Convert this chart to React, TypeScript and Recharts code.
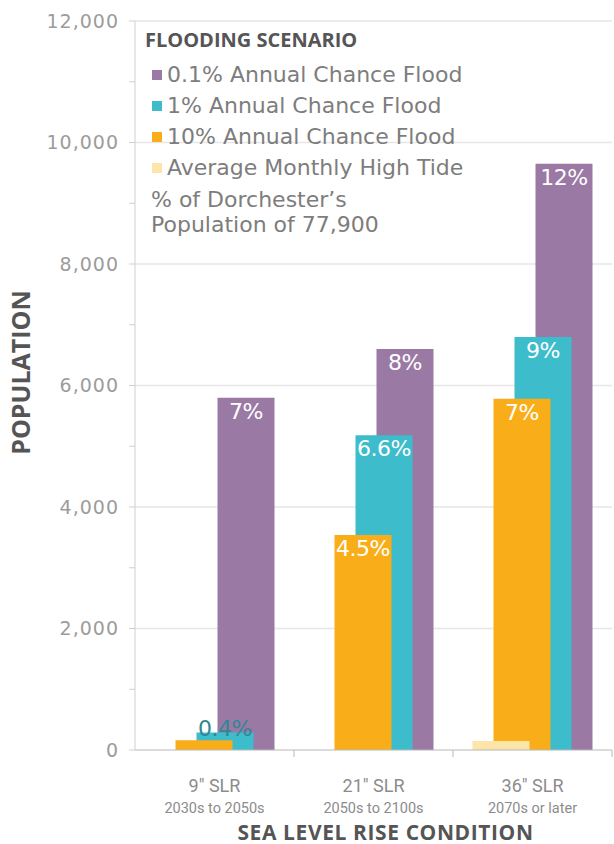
import React from 'react';
import { BarChart, Bar, XAxis, YAxis, CartesianGrid, Legend, LabelList } from 'recharts';

// sea level rise conditions (x categories)
const categories = ['9" SLR', '21" SLR', '36" SLR'];
const periods = ['2030s to 2050s', '2050s to 2100s', '2070s or later'];

// population flooded
const flood01 = [5800, 6600, 9650];
const flood1 = [290, 5180, 6800];
const flood10 = [160, 3540, 5780];
const highTide = [0, 0, 150];

// % of Dorchester's population shown on the bars
const pct01 = ['7%', '8%', '12%'];
const pct1 = ['0.4%', '6.6%', '9%'];
const pct10 = ['', '4.5%', '7%'];
const pctTide = ['', '', ''];

const yTicks = [0, 1000, 2000, 3000, 4000, 5000, 6000, 7000, 8000, 9000, 10000, 11000, 12000];
const gridValues = [2000, 4000, 6000, 8000, 10000, 12000];

const data = categories.map((name, i) => ({
  name,
  period: periods[i],
  flood01: flood01[i],
  flood1: flood1[i],
  flood10: flood10[i],
  highTide: highTide[i],
  pct01: pct01[i],
  pct1: pct1[i],
  pct10: pct10[i],
  pctTide: pctTide[i],
}));

// back to front: later series sit in front and further left
const series = [
  { key: 'flood01', label: 'pct01', name: '0.1% Annual Chance Flood', color: '#9a7aa4', shift: 31.5 },
  { key: 'flood1', label: 'pct1', name: '1% Annual Chance Flood', color: '#3dbccb', shift: 10.5 },
  { key: 'flood10', label: 'pct10', name: '10% Annual Chance Flood', color: '#f9ae19', shift: -10.5 },
  { key: 'highTide', label: 'pctTide', name: 'Average Monthly High Tide', color: '#fde4a8', shift: -31.5 },
];

const bodyFont = '"DejaVu Sans", sans-serif';
const boldFont = '"Open Sans", sans-serif';

const PctLabel = (props: any) => {
  const vb = props.viewBox || props;
  const { x, y, width, height } = vb;
  if (!props.value) return null;
  const small = height < 30;
  return (
    <text
      x={x + width / 2}
      y={small ? y + 4 : y + 21}
      textAnchor="middle"
      fill={small ? '#2f8794' : '#ffffff'}
      fontFamily={bodyFont}
      fontSize={22}
      letterSpacing={-0.5}
    >
      {props.value}
    </text>
  );
};

// two-line category label, plus a small tick at the right edge of each band
const CategoryTick = ({ x, y, payload }: any) => {
  const edge = x + (payload.offset || 0);
  return (
    <g>
      <line x1={edge} x2={edge} y1={y - 8} y2={y - 1} stroke="#b8b8b8" />
      <text x={x} y={y} textAnchor="middle" fill="#8c8c8c" fontFamily="Roboto, sans-serif">
        <tspan x={x} dy={34} fontSize={18}>{payload.value}</tspan>
        <tspan x={x} dy={21} fontSize={14.5}>{periods[payload.index]}</tspan>
      </text>
    </g>
  );
};

const LegendBox = ({ payload }: any) => (
  <div style={{ fontFamily: bodyFont, color: '#7d7d7d', textAlign: 'left' }}>
    <div style={{ fontFamily: boldFont, fontWeight: 700, fontSize: 20, lineHeight: '26px', color: '#555', marginBottom: 6 }}>
      FLOODING SCENARIO
    </div>
    {(payload || []).map((p: any) => (
      <div key={p.value} style={{ display: 'flex', alignItems: 'center', fontSize: 22, lineHeight: '31px', marginLeft: 7 }}>
        <span style={{ display: 'inline-block', width: 10, height: 10, background: p.color, marginRight: 5 }} />
        {p.value}
      </div>
    ))}
    <div style={{ fontSize: 22, lineHeight: '25px', marginTop: 4, marginLeft: 6 }}>
      % of Dorchester’s
      <br />
      Population of 77,900
    </div>
  </div>
);

export default function App() {
  return (
    <div style={{ position: 'absolute', left: 0, top: 0, background: '#fff' }}>
      <BarChart width={614} height={844} data={data} margin={{ top: 21, right: 2, left: 0, bottom: 0 }}>
        <CartesianGrid xAxisId="main" vertical={false} horizontalValues={gridValues} stroke="#e6e6e6" strokeWidth={1.5} />
        <XAxis
          xAxisId="main"
          dataKey="name"
          height={94}
          axisLine={{ stroke: '#b8b8b8' }}
          tickLine={false}
          interval={0}
          tick={<CategoryTick />}
          label={{
            value: 'SEA LEVEL RISE CONDITION',
            position: 'insideBottom',
            offset: 4,
            dx: 12,
            fill: '#555',
            style: { fontFamily: boldFont, fontWeight: 700, fontSize: 21, letterSpacing: 0.6 },
          }}
        />
        {series.map((s) => (
          <XAxis
            key={s.key}
            xAxisId={s.key}
            dataKey="name"
            hide
            height={0}
            padding={{ left: s.shift, right: -s.shift }}
          />
        ))}
        <YAxis
          width={135}
          domain={[0, 12000]}
          ticks={yTicks}
          interval={0}
          tickFormatter={(v: number) => (v % 2000 === 0 ? v.toLocaleString('en-US') : '')}
          tick={{ fill: '#9c9c9c', fontSize: 19, fontFamily: bodyFont, letterSpacing: 1 }}
          tickSize={6}
          tickMargin={10}
          axisLine={{ stroke: '#cfcfcf' }}
          tickLine={{ stroke: '#cfcfcf' }}
          label={{
            value: 'POPULATION',
            angle: -90,
            position: 'insideLeft',
            offset: 21,
            dy: -13,
            fill: '#555',
            style: { textAnchor: 'middle', fontFamily: boldFont, fontWeight: 700, fontSize: 25 },
          }}
        />
        <Legend
          layout="horizontal"
          verticalAlign="middle"
          align="center"
          content={<LegendBox />}
          wrapperStyle={{ top: 27, left: 145, width: 360 }}
        />
        {series.map((s) => (
          <Bar
            key={s.key}
            dataKey={s.key}
            name={s.name}
            xAxisId={s.key}
            fill={s.color}
            barSize={57}
            isAnimationActive={false}
          >
            <LabelList dataKey={s.label} content={PctLabel} />
          </Bar>
        ))}
      </BarChart>
    </div>
  );
}
